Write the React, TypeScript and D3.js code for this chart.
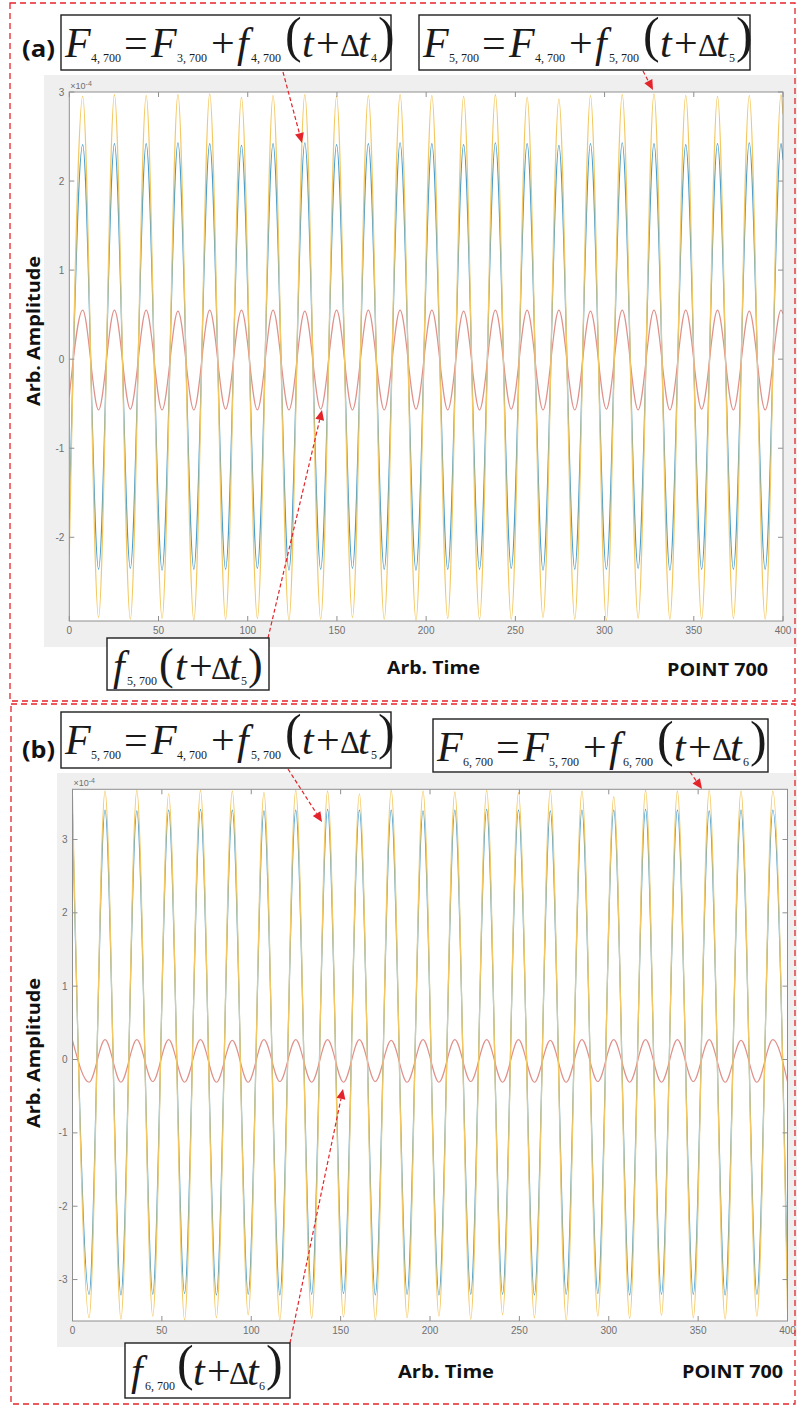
import React from "react";
import * as d3 from "d3";

// ---------- tick values ----------
const xTickValues = [0, 50, 100, 150, 200, 250, 300, 350, 400];
const aYTickValues = [-2, -1, 0, 1, 2, 3];
const bYTickValues = [-3, -2, -1, 0, 1, 2, 3];

// ---------- panel (a): extrema (time, value x1e-4) ----------
const aTimes = [0, 7.5, 16.4, 25.3, 34.2, 43.1, 52.0, 60.9, 69.8, 78.7, 87.6, 96.5, 105.4, 114.2, 123.1, 132.0, 140.9, 149.8, 158.7, 167.6, 176.5, 185.4, 194.3, 203.2, 212.1, 221.0, 229.9, 238.8, 247.7, 256.6, 265.5, 274.4, 283.3, 292.1, 301.0, 309.9, 318.8, 327.7, 336.6, 345.5, 354.4, 363.3, 372.2, 381.1, 390.0, 398.9, 400];
// F_{4,700} (blue)
const aF4 = [-1.8,
  2.41, -2.36, 2.42, -2.35, 2.42, -2.37, 2.43, -2.36, 2.42, -2.36, 2.40, -2.35, 2.42, -2.37, 2.43, -2.36, 2.41, -2.35, 2.42, -2.36, 2.43, -2.37,
  2.42, -2.36, 2.41, -2.36, 2.43, -2.35, 2.42, -2.37, 2.40, -2.36, 2.42, -2.36, 2.43, -2.35, 2.42, -2.37, 2.41, -2.36, 2.42, -2.36, 2.43, -2.36,
  2.42, 2.24];
// f_{5,700} (red)
const af5 = [-0.42,
  0.55, -0.57, 0.55, -0.56, 0.55, -0.57, 0.54, -0.57, 0.55, -0.56, 0.55, -0.57, 0.55, -0.57, 0.54, -0.56, 0.55, -0.57, 0.55, -0.57, 0.55, -0.56,
  0.55, -0.57, 0.54, -0.57, 0.55, -0.56, 0.55, -0.57, 0.55, -0.57, 0.54, -0.56, 0.55, -0.57, 0.55, -0.57, 0.55, -0.56, 0.55, -0.57, 0.54, -0.57,
  0.55, 0.51];
// F_{5,700} (yellow)
const aF5 = [-2.2,
  2.95, -2.90, 2.97, -2.92, 2.96, -2.91, 2.97, -2.93, 2.98, -2.92, 2.94, -2.91, 2.96, -2.93, 2.97, -2.92, 2.95, -2.90, 2.96, -2.92, 2.97, -2.93,
  2.96, -2.91, 2.95, -2.92, 2.97, -2.92, 2.94, -2.90, 2.92, -2.92, 2.96, -2.93, 2.97, -2.91, 2.98, -2.92, 2.96, -2.92, 2.95, -2.91, 2.96, -2.92,
  2.97, 2.75];

// ---------- panel (b) ----------
const bTimes = [0, 9.3, 18.2, 27.1, 36.0, 44.9, 53.8, 62.7, 71.6, 80.5, 89.4, 98.3, 107.1, 116.0, 124.9, 133.8, 142.7, 151.6, 160.5, 169.4, 178.3, 187.2, 196.1, 205.0, 213.9, 222.8, 231.7, 240.6, 249.5, 258.4, 267.3, 276.2, 285.0, 293.9, 302.8, 311.7, 320.6, 329.5, 338.4, 347.3, 356.2, 365.1, 374.0, 382.9, 391.8, 400];
// F_{5,700} (blue)
const bF5 = [3.35,
  -3.20, 3.40, -3.21, 3.39, -3.20, 3.40, -3.19, 3.41, -3.21, 3.40, -3.20, 3.39, -3.21, 3.40, -3.20, 3.41, -3.19, 3.40, -3.21, 3.40, -3.20, 3.39,
  -3.21, 3.40, -3.20, 3.41, -3.20, 3.40, -3.21, 3.39, -3.20, 3.40, -3.19, 3.40, -3.21, 3.41, -3.20, 3.40, -3.20, 3.39, -3.21, 3.40, -3.20, 3.40,
  -3.12];
// f_{6,700} (red)
const bf6 = [0.26,
  -0.31, 0.27, -0.31, 0.27, -0.30, 0.27, -0.31, 0.27, -0.31, 0.26, -0.31, 0.27, -0.30, 0.27, -0.31, 0.27, -0.31, 0.27, -0.30, 0.26, -0.31, 0.27,
  -0.31, 0.27, -0.30, 0.27, -0.31, 0.27, -0.31, 0.26, -0.31, 0.27, -0.30, 0.27, -0.31, 0.27, -0.31, 0.27, -0.30, 0.27, -0.31, 0.26, -0.31, 0.27,
  -0.30];
// F_{6,700} (yellow)
const bF6 = [3.6,
  -3.52, 3.66, -3.54, 3.67, -3.50, 3.62, -3.55, 3.67, -3.52, 3.66, -3.48, 3.64, -3.55, 3.67, -3.53, 3.66, -3.51, 3.62, -3.55, 3.67, -3.52, 3.66,
  -3.50, 3.65, -3.54, 3.67, -3.48, 3.64, -3.52, 3.67, -3.55, 3.66, -3.50, 3.58, -3.53, 3.67, -3.49, 3.66, -3.52, 3.67, -3.54, 3.66, -3.50, 3.66,
  -3.42];

const BLUE = "#4a9dcb";
const RED = "#e0918a";
const YELLOW = "#f3c862";
const DASH_RED = "#e3242b";

type Box = { left: number; right: number; top: number; bottom: number };

function Panel(props: {
  id: string;
  times: number[];
  blue: number[];
  red: number[];
  yellow: number[];
  yDomain: [number, number];
  yTicks: number[];
  plot: Box;
  bg: Box;
}) {
  const { id, times, plot, bg } = props;
  const x = d3.scaleLinear().domain([0, 400]).range([plot.left, plot.right]);
  const y = d3.scaleLinear().domain(props.yDomain).range([plot.bottom, plot.top]);
  const line = d3
    .line<number>()
    .x((_, i) => x(times[i]))
    .y((d) => y(d))
    .curve(d3.curveMonotoneX);
  const tl = 5;
  const axisColor = "#8f8f8f";
  const labelColor = "#707070";
  const series = [
    { v: props.blue, c: BLUE },
    { v: props.red, c: RED },
    { v: props.yellow, c: YELLOW },
  ];
  return (
    <g>
      <rect x={bg.left} y={bg.top} width={bg.right - bg.left} height={bg.bottom - bg.top} fill="#efefef" />
      <rect x={plot.left} y={plot.top} width={plot.right - plot.left} height={plot.bottom - plot.top} fill="#ffffff" />
      <clipPath id={`clip-${id}`}>
        <rect x={plot.left} y={plot.top} width={plot.right - plot.left} height={plot.bottom - plot.top} />
      </clipPath>
      <g clipPath={`url(#clip-${id})`}>
        {series.map((s, i) => (
          <path key={i} d={line(s.v) || ""} fill="none" stroke={s.c} strokeWidth={1.2} strokeLinejoin="round" />
        ))}
      </g>
      <rect x={plot.left} y={plot.top} width={plot.right - plot.left} height={plot.bottom - plot.top} fill="none" stroke={axisColor} strokeWidth={1} />
      {xTickValues.map((v) => (
        <g key={`x${v}`}>
          <line x1={x(v)} x2={x(v)} y1={plot.bottom} y2={plot.bottom - tl} stroke={axisColor} />
          <line x1={x(v)} x2={x(v)} y1={plot.top} y2={plot.top + tl} stroke={axisColor} />
          <text x={x(v)} y={plot.bottom + 13} textAnchor="middle" fontSize={10} fontFamily="Liberation Sans, Arial" fill={labelColor}>
            {v}
          </text>
        </g>
      ))}
      {props.yTicks.map((v) => (
        <g key={`y${v}`}>
          <line x1={plot.left} x2={plot.left + tl} y1={y(v)} y2={y(v)} stroke={axisColor} />
          <line x1={plot.right} x2={plot.right - tl} y1={y(v)} y2={y(v)} stroke={axisColor} />
          <text x={plot.left - 5} y={y(v) + 3.5} textAnchor="end" fontSize={10} fontFamily="Liberation Sans, Arial" fill={labelColor}>
            {v < 0 ? `-${Math.abs(v)}` : `${v}`}
          </text>
        </g>
      ))}
      <text x={plot.left + 1} y={plot.top - 3} fontSize={9} fontFamily="Liberation Sans, Arial" fill={labelColor}>
        ×10
        <tspan dy={-3} fontSize={7}>-4</tspan>
      </text>
    </g>
  );
}

type Tok = { s: string; x: number; k: "it" | "op" | "sub" | "par" | "delta" };

const fullTokens = (s1: string, s2: string, s3: string, s4: string): Tok[] => [
  { s: "F", x: 4, k: "it" },
  { s: s1, x: 30, k: "sub" },
  { s: "=", x: 63, k: "op" },
  { s: "F", x: 90, k: "it" },
  { s: s2, x: 116, k: "sub" },
  { s: "+", x: 150, k: "op" },
  { s: "f", x: 176, k: "it" },
  { s: s3, x: 190, k: "sub" },
  { s: "(", x: 224, k: "par" },
  { s: "t", x: 241, k: "it" },
  { s: "+", x: 255, k: "op" },
  { s: "Δ", x: 279, k: "delta" },
  { s: "t", x: 297, k: "it" },
  { s: s4, x: 310, k: "sub" },
  { s: ")", x: 317, k: "par" },
];

const shortTokens = (s3: string, s4: string): Tok[] => [
  { s: "f", x: 6, k: "it" },
  { s: s3, x: 20, k: "sub" },
  { s: "(", x: 52, k: "par" },
  { s: "t", x: 68, k: "it" },
  { s: "+", x: 82, k: "op" },
  { s: "Δ", x: 104, k: "delta" },
  { s: "t", x: 122, k: "it" },
  { s: s4, x: 134, k: "sub" },
  { s: ")", x: 141, k: "par" },
];

function Formula(props: { x: number; y: number; w: number; h: number; tokens: Tok[]; parSize?: number; parBase?: number }) {
  const { x, y, w, h, tokens } = props;
  const parSize = props.parSize ?? 50;
  const parBase = props.parBase ?? 37;
  return (
    <g>
      <rect x={x} y={y} width={w} height={h} fill="#ffffff" stroke="#1e1e1e" strokeWidth={1.4} />
      {tokens.map((t, i) => {
        let size = 42;
        let base = 42;
        let italic = false;
        if (t.k === "it") italic = true;
        if (t.k === "sub") {
          size = 12;
          base = 47;
        }
        if (t.k === "par") {
          size = parSize;
          base = parBase;
        }
        if (t.k === "delta") {
          size = 31;
          base = 41;
        }
        return (
          <text
            key={i}
            x={x + t.x}
            y={y + base}
            fontSize={size}
            fontStyle={italic ? "italic" : "normal"}
            fontFamily="Liberation Serif, Times New Roman, serif"
            fill="#1a1a1a"
          >
            {t.s}
          </text>
        );
      })}
    </g>
  );
}

function Arrow(props: { x1: number; y1: number; x2: number; y2: number }) {
  const { x1, y1, x2, y2 } = props;
  const ang = Math.atan2(y2 - y1, x2 - x1);
  const L = 10;
  const hw = 4.5;
  const bx = x2 - L * Math.cos(ang);
  const by = y2 - L * Math.sin(ang);
  const px = -Math.sin(ang) * hw;
  const py = Math.cos(ang) * hw;
  return (
    <g>
      <line x1={x1} y1={y1} x2={bx} y2={by} stroke={DASH_RED} strokeWidth={1.2} strokeDasharray="4 2.5" />
      <polygon points={`${x2},${y2} ${bx + px},${by + py} ${bx - px},${by - py}`} fill={DASH_RED} />
    </g>
  );
}

function BoldText(props: { x: number; y: number; len: number; size: number; children: string; anchor?: string; transform?: string }) {
  return (
    <text
      x={props.x}
      y={props.y}
      fontSize={props.size}
      fontWeight="bold"
      fontFamily="Open Sans, Lato, sans-serif"
      fill="#111"
      textLength={props.len}
      lengthAdjust="spacingAndGlyphs"
      textAnchor={props.anchor || "start"}
      transform={props.transform}
    >
      {props.children}
    </text>
  );
}

export default function App() {
  return (
    <svg width={797} height={1407} style={{ position: "absolute", left: 0, top: 0 }} xmlns="http://www.w3.org/2000/svg">
      <rect x={0} y={0} width={797} height={1407} fill="#ffffff" />

      {/* panel (a) */}
      <Panel
        id="a"
        times={aTimes}
        blue={aF4}
        red={af5}
        yellow={aF5}
        yDomain={[-2.94, 3.0]}
        yTicks={aYTickValues}
        plot={{ left: 69.3, right: 783, top: 92, bottom: 621 }}
        bg={{ left: 44, right: 797, top: 75, bottom: 647 }}
      />
      {/* panel (b) */}
      <Panel
        id="b"
        times={bTimes}
        blue={bF5}
        red={bf6}
        yellow={bF6}
        yDomain={[-3.565, 3.684]}
        yTicks={bYTickValues}
        plot={{ left: 72.5, right: 787.5, top: 789.3, bottom: 1321 }}
        bg={{ left: 57, right: 797, top: 773, bottom: 1347 }}
      />

      {/* dashed frames */}
      <rect x={10} y={3} width={785} height={698} fill="none" stroke={DASH_RED} strokeWidth={1.3} strokeDasharray="6 4" />
      <rect x={11} y={704} width={784} height={700} fill="none" stroke={DASH_RED} strokeWidth={1.3} strokeDasharray="6 4" />

      {/* labels (a) */}
      <BoldText x={22} y={57} len={33} size={23}>(a)</BoldText>
      <BoldText x={40} y={331} len={150} size={18} anchor="middle" transform="rotate(-90 40 331)">Arb. Amplitude</BoldText>
      <BoldText x={387} y={674} len={93} size={18}>Arb. Time</BoldText>
      <BoldText x={667} y={676} len={101} size={18}>POINT 700</BoldText>

      {/* labels (b) */}
      <BoldText x={22} y={758} len={33} size={23}>(b)</BoldText>
      <BoldText x={40} y={1053} len={150} size={18} anchor="middle" transform="rotate(-90 40 1053)">Arb. Amplitude</BoldText>
      <BoldText x={398} y={1378} len={96} size={18}>Arb. Time</BoldText>
      <BoldText x={682} y={1378} len={101} size={18}>POINT 700</BoldText>

      {/* arrows */}
      <Arrow x1={283} y1={72} x2={302} y2={143} />
      <Arrow x1={643} y1={71} x2={653} y2={90} />
      <Arrow x1={268} y1={638} x2={322} y2={410} />
      <Arrow x1={288} y1={769} x2={322} y2={822} />
      <Arrow x1={690} y1={772} x2={702} y2={789} />
      <Arrow x1={290} y1={1343} x2={343} y2={1089} />

      {/* formula boxes */}
      <Formula x={61} y={15} w={330} h={55} tokens={fullTokens("4, 700", "3, 700", "4, 700", "4")} />
      <Formula x={419} y={15} w={331} h={55} tokens={fullTokens("5, 700", "4, 700", "5, 700", "5")} />
      <Formula x={107} y={638} w={162} h={52} tokens={shortTokens("5, 700", "5")} parSize={44} parBase={41} />
      <Formula x={61} y={712} w={330} h={56} tokens={fullTokens("5, 700", "4, 700", "5, 700", "5")} />
      <Formula x={433} y={719} w={335} h={53} tokens={fullTokens("6, 700", "5, 700", "6, 700", "6")} />
      <Formula x={125} y={1343} w={165} h={55} tokens={shortTokens("6, 700", "6")} />
    </svg>
  );
}
